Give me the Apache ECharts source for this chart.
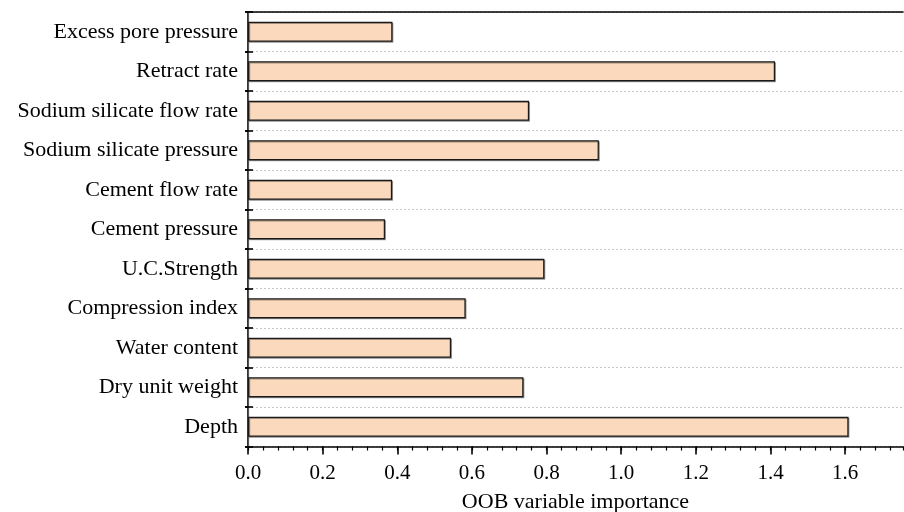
<!DOCTYPE html>
<html>
<head>
<meta charset="utf-8">
<script src="https://cdn.jsdelivr.net/npm/echarts@6/dist/echarts.min.js"></script>
<style>
  html, body { margin: 0; padding: 0; background: #fff; }
  #chart { width: 904px; height: 512px; }
</style>
</head>
<body>
<div id="chart"></div>
<script>
// Variables, listed from top to bottom of the chart
const categories = [
  'Excess pore pressure',
  'Retract rate',
  'Sodium silicate flow rate',
  'Sodium silicate pressure',
  'Cement flow rate',
  'Cement pressure',
  'U.C.Strength',
  'Compression index',
  'Water content',
  'Dry unit weight',
  'Depth'
];
// Out-of-bag variable importance for each variable
const importance = [0.387, 1.412, 0.753, 0.940, 0.386, 0.367, 0.794, 0.583, 0.544, 0.738, 1.609];

const xTitle = 'OOB variable importance';
const xMin = 0;
const xMax = 1.755;
const xMajor = 0.2;
const xMinor = 0.04;

const font = 'Liberation Serif';
const ink = '#000';

const chart = echarts.init(document.getElementById('chart'), null, { renderer: 'canvas' });

const baseY = {
  type: 'category',
  data: categories,
  inverse: true,
  gridIndex: 0
};

chart.setOption({
  animation: false,
  backgroundColor: '#fff',
  grid: { left: 248, right: 1, top: 12, bottom: 65.5, containLabel: false, outerBoundsMode: 'none' },
  xAxis: [
    {
      // main value axis with labels and major ticks
      type: 'value',
      position: 'bottom',
      min: xMin,
      max: xMax,
      interval: xMajor,
      name: xTitle,
      nameLocation: 'middle',
      nameGap: 45,
      nameTextStyle: { fontFamily: font, fontSize: 22, color: ink },
      axisLine: { show: true, lineStyle: { color: ink, width: 1.6 } },
      axisTick: { show: true, inside: false, length: 8, lineStyle: { color: ink, width: 1.6 } },
      axisLabel: {
        fontFamily: font, fontSize: 21, color: ink, margin: 16,
        showMaxLabel: false,
        formatter: v => v.toFixed(1)
      },
      splitLine: { show: false }
    },
    {
      // minor ticks along the bottom
      type: 'value',
      position: 'bottom',
      min: xMin,
      max: xMax,
      interval: xMinor,
      axisLine: { show: false },
      axisTick: { show: true, inside: false, length: 4, lineStyle: { color: ink, width: 1.2 } },
      axisLabel: { show: false },
      splitLine: { show: false }
    },
    {
      // top frame line
      type: 'value',
      position: 'top',
      min: xMin,
      max: xMax,
      interval: xMajor,
      axisLine: { show: true, lineStyle: { color: ink, width: 1.6 } },
      axisTick: { show: false },
      axisLabel: { show: false },
      splitLine: { show: false }
    }
  ],
  yAxis: [
    Object.assign({}, baseY, {
      position: 'left',
      axisLine: { show: true, lineStyle: { color: ink, width: 1.6 } },
      axisTick: { show: true, inside: true, length: 5, lineStyle: { color: ink, width: 1.6 } },
      axisLabel: { fontFamily: font, fontSize: 22, color: ink, margin: 10 },
      splitLine: { show: true, lineStyle: { color: '#c8c8c8', type: [2, 2], width: 1 } }
    }),
    Object.assign({}, baseY, {
      // outward half of the left crossing ticks
      position: 'left',
      axisLine: { show: false },
      axisTick: { show: true, inside: false, length: 3, lineStyle: { color: ink, width: 1.6 } },
      axisLabel: { show: false },
      splitLine: { show: false }
    }),
    Object.assign({}, baseY, {
      // right frame line with inward ticks
      position: 'right',
      axisLine: { show: true, lineStyle: { color: '#555', width: 1.2 } },
      axisTick: { show: true, inside: true, length: 3, lineStyle: { color: ink, width: 1.6 } },
      axisLabel: { show: false },
      splitLine: { show: false }
    })
  ],
  series: [
    {
      type: 'bar',
      xAxisIndex: 0,
      yAxisIndex: 0,
      data: importance,
      barWidth: 20,
      itemStyle: {
        color: '#fad9bc',
        borderColor: '#1a1a1a',
        borderWidth: 1.2,
        shadowColor: 'rgba(0,0,0,0.35)',
        shadowOffsetX: 1,
        shadowOffsetY: 1,
        shadowBlur: 0
      },
      z: 1
    }
  ]
});
</script>
</body>
</html>
